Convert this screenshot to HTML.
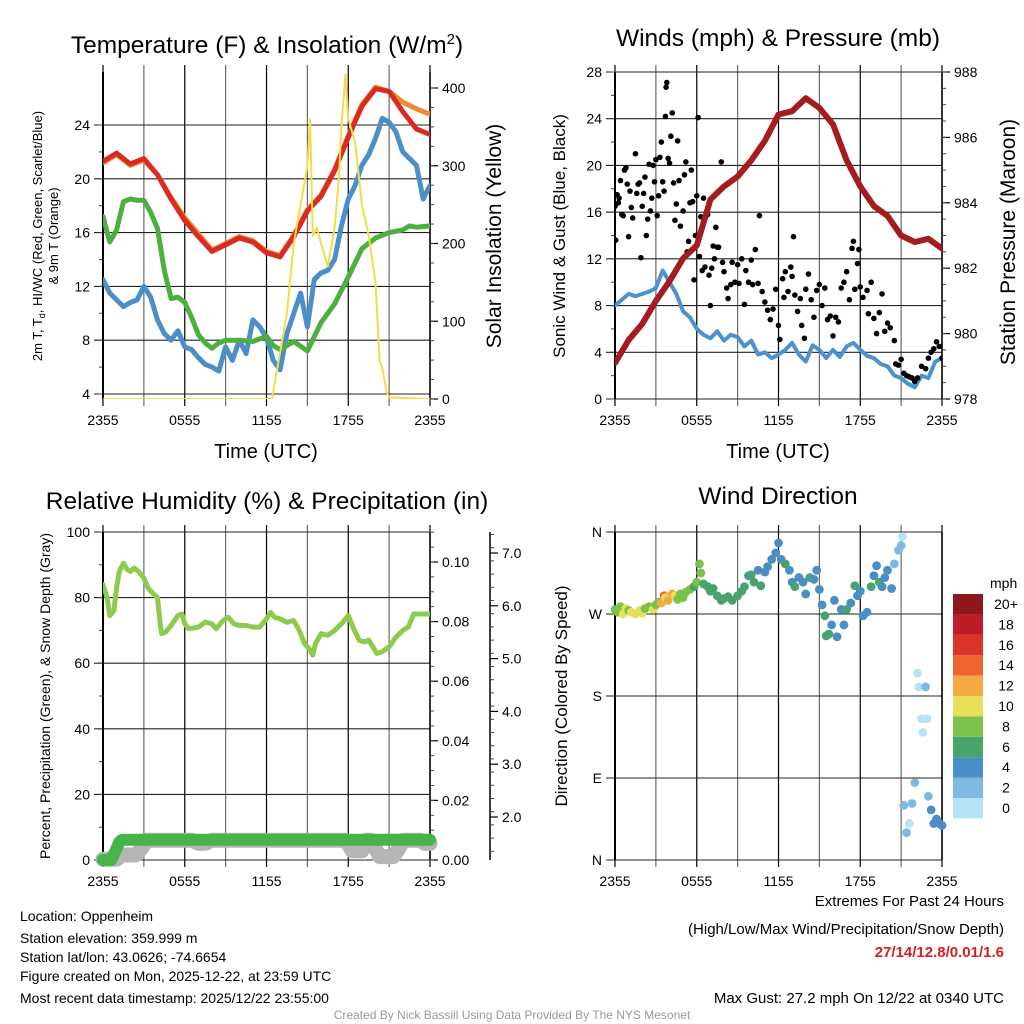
<!DOCTYPE html>
<html><head><meta charset="utf-8"><style>
html,body{margin:0;padding:0;background:#fff}
svg{display:block;font-family:"Liberation Sans",Arial,sans-serif}
</style></head><body>
<svg id="s" xmlns="http://www.w3.org/2000/svg" width="1024" height="1024" viewBox="0 0 1024 1024">
<defs>
<clipPath id="c1"><rect x="103" y="72" width="327" height="327"/></clipPath>
<clipPath id="c2"><rect x="615" y="72" width="327" height="327"/></clipPath>
<clipPath id="c3"><rect x="103" y="532" width="327" height="328"/></clipPath>
<clipPath id="c3w"><rect x="90" y="532" width="350" height="340"/></clipPath>
</defs>
<text x="267" y="53" font-size="24.5" text-anchor="middle">Temperature (F) &amp; Insolation (W/m<tspan font-size="15" dy="-9">2</tspan><tspan dy="9">)</tspan></text>
<text x="778" y="46" font-size="24.5" text-anchor="middle">Winds (mph) &amp; Pressure (mb)</text>
<text x="267" y="509" font-size="24.5" text-anchor="middle">Relative Humidity (%) &amp; Precipitation (in)</text>
<text x="778" y="504" font-size="24.5" text-anchor="middle">Wind Direction</text>

<text x="266" y="458" font-size="20" text-anchor="middle">Time (UTC)</text>
<text x="778" y="458" font-size="20" text-anchor="middle">Time (UTC)</text>
<text transform="translate(42,236) rotate(-90)" font-size="13" text-anchor="middle"><tspan x="0" dy="0">2m T, T<tspan font-size="9" dy="3">d</tspan><tspan dy="-3">, HI/WC (Red, Green, Scarlet/Blue)</tspan></tspan><tspan x="0" dy="16">&amp; 9m T (Orange)</tspan></text>
<text transform="translate(501,236) rotate(-90)" font-size="21" text-anchor="middle">Solar Insolation (Yellow)</text>
<text transform="translate(565,236) rotate(-90)" font-size="17" text-anchor="middle">Sonic Wind &amp; Gust (Blue, Black)</text>
<text transform="translate(1015,242) rotate(-90)" font-size="21" text-anchor="middle">Station Pressure (Maroon)</text>
<text transform="translate(50,696) rotate(-90)" font-size="14" text-anchor="middle">Percent, Precipitation (Green), &amp; Snow Depth (Gray)</text>
<text transform="translate(567,696) rotate(-90)" font-size="17" text-anchor="middle">Direction (Colored By Speed)</text>

<g font-size="14">
<text x="20" y="921">Location: Oppenheim</text>
<text x="20" y="943">Station elevation: 359.999 m</text>
<text x="20" y="962">Station lat/lon: 43.0626; -74.6654</text>
<text x="20" y="981">Figure created on Mon, 2025-12-22, at 23:59 UTC</text>
<text x="20" y="1003">Most recent data timestamp: 2025/12/22 23:55:00</text>
</g>
<g font-size="15" text-anchor="end">
<text x="1004" y="906">Extremes For Past 24 Hours</text>
<text x="1004" y="934">(High/Low/Max Wind/Precipitation/Snow Depth)</text>
<text x="1004" y="957" fill="#d42020" font-weight="bold">27/14/12.8/0.01/1.6</text>
<text x="1004" y="1003">Max Gust: 27.2 mph On 12/22 at 0340 UTC</text>
</g>
<text x="512" y="1019" font-size="12" fill="#999" text-anchor="middle">Created By Nick Bassill Using Data Provided By The NYS Mesonet</text>
</svg>
<script>
// ---- data ----
const hourly = [0,1,2,3,4,5,6,7,8,9,10,11,12,13,14,15,16,17,18,19,20,21,22,23,24];
const tempRed = [21.3,21.9,21.1,21.5,20.3,18.5,16.9,15.7,14.6,15.1,15.6,15.3,14.5,14.2,15.7,17.6,18.7,20.6,23.1,25.4,26.7,26.5,25.0,23.7,23.3];
const tempOrange = [21.2,21.8,21.0,21.4,20.3,18.6,17.1,15.9,14.7,15.2,15.7,15.4,14.6,14.3,15.8,17.7,18.8,20.7,23.2,25.5,26.8,26.5,25.7,25.2,24.8];
const dewTimes = [0,0.5,1,1.5,2,2.5,3,3.5,4,4.5,5,5.5,6,6.5,7,7.5,8,8.5,9,10,11,12,12.5,13,14,15,16,17,18,19,20,21,22,22.5,23,24];
const dewVals = [17.2,15.3,16.2,18.3,18.5,18.4,18.4,17.5,16.3,13.2,11.1,11.2,10.8,9.7,8.4,7.8,7.4,7.8,8.0,8.0,7.9,8.3,7.6,7.3,7.9,7.2,9.3,10.7,12.7,14.8,15.6,16.0,16.2,16.5,16.4,16.5];
const halfHours = [0,0.5,1,1.5,2,2.5,3,3.5,4,4.5,5,5.5,6,6.5,7,7.5,8,8.5,9,9.5,10,10.5,11,11.5,12,12.5,13,13.5,14,14.5,15,15.5,16,16.5,17,17.5,18,18.5,19,19.5,20,20.5,21,21.5,22,22.5,23,23.5,24];
const windChill = [12.5,11.5,11.0,10.5,10.8,11.0,12.0,11.2,9.5,8.5,8.0,8.7,7.5,7.3,6.7,6.2,6.0,5.7,7.5,6.5,8.0,7.0,9.5,9.0,8.2,6.5,5.8,8.5,10.0,11.5,9.0,12.5,13.0,13.2,14.0,16.5,18.5,19.5,21.0,21.8,23.0,24.5,24.2,23.5,22.0,21.5,21.0,18.5,19.5];
const insolTimes = [0,12.4,13,13.5,14,14.5,15,15.2,15.4,15.7,16,16.5,17,17.3,17.5,17.8,18,18.5,19,19.5,20,20.3,20.5,20.8,21,24];
const insolVals = [0,0,60,110,200,250,300,360,210,220,200,170,220,280,350,418,360,330,250,210,150,50,40,10,2,0];
const pressureVals = [979.1,979.8,980.3,981.0,981.6,982.3,982.7,984.1,984.5,984.8,985.3,985.9,986.7,986.8,987.2,986.9,986.4,985.3,984.5,983.9,983.6,983.0,982.8,982.9,982.6];
const sustainedWind = [8.0,8.5,9.0,8.8,9.0,9.2,9.5,11.0,10.0,9.0,7.5,7.0,6.0,5.5,5.2,5.8,5.0,5.5,5.3,4.5,5.0,3.8,4.0,3.5,3.8,4.2,4.8,3.8,3.2,4.6,4.2,3.5,4.2,3.6,4.5,4.8,4.2,3.7,3.5,3.0,2.8,2.0,1.8,1.3,1.0,2.0,1.8,3.2,3.5];
const gustTimes = [0,0.05,0.15,0.25,0.3,0.4,0.5,0.6,0.7,0.8,0.9,1.0,1.1,1.2,1.3,1.5,1.6,1.7,1.8,1.9,2.0,2.1,2.2,2.3,2.4,2.5,2.6,2.7,2.8,2.9,3.0,3.1,3.2,3.3,3.4,3.5,3.6,3.7,3.75,3.8,3.9,4.0,4.1,4.2,4.3,4.4,4.5,4.6,4.7,4.8,5.0,5.1,5.2,5.3,5.4,5.5,5.6,5.7,5.8,5.9,6.0,6.1,6.2,6.3,6.4,6.5,6.6,6.8,6.9,7.0,7.1,7.2,7.3,7.4,7.5,7.6,7.8,7.9,8.0,8.2,8.3,8.5,8.6,8.8,9.0,9.1,9.3,9.5,9.6,9.8,10.0,10.1,10.3,10.5,10.6,10.8,11.0,11.2,11.4,11.6,11.8,12.0,12.1,12.3,12.4,12.5,12.7,12.9,13.0,13.1,13.2,13.4,13.6,13.7,13.9,14.0,14.2,14.4,14.6,14.8,15.0,15.2,15.4,15.6,15.8,16.0,16.2,16.4,16.6,16.8,17.0,17.2,17.4,17.5,17.6,17.8,17.9,18.0,18.2,18.5,18.6,18.8,19.0,19.2,19.4,19.6,19.8,20.0,20.2,20.5,20.6,20.8,21.0,21.2,21.4,21.6,21.8,22.0,22.2,22.5,22.8,23.0,23.2,23.4,23.6,23.8,24.0];
const gustVals = [16.5,13.6,17.5,16.8,17.2,18.7,15.8,15.7,19.6,19.8,18.4,13.9,17.8,16.4,15.5,21.0,17.6,18.4,18.5,12.1,16.5,17.6,19.0,14.0,15.4,20.1,16.1,17.2,20.0,18.6,20.5,15.7,17.4,20.7,22.0,18.6,17.8,24.2,26.7,27.1,20.6,20.2,22.5,24.5,18.5,15.3,16.7,22.1,18.7,14.8,16.1,19.2,20.3,12.6,13.5,16.8,19.6,16.9,10.2,14.0,17.4,24.1,12.2,15.6,11.0,17.2,11.3,15.8,10.6,8.0,11.2,13.1,12.0,14.7,13.0,13.0,20.3,11.7,10.9,9.5,8.6,9.8,11.7,10.0,11.5,9.9,12.0,8.1,11.0,10.0,11.9,9.8,12.8,9.9,15.7,9.2,8.3,7.6,6.8,7.7,9.4,6.3,5.1,10.3,8.7,10.9,9.2,11.3,10.5,13.9,8.9,7.5,8.6,6.3,5.2,9.4,10.7,8.5,7.0,9.3,9.8,8.0,9.5,6.8,7.1,5.4,7.0,6.6,9.5,10.0,10.9,8.5,12.9,13.5,9.4,11.6,12.8,9.6,8.7,9.3,7.3,10.0,6.9,5.6,7.4,9.0,5.8,6.5,6.1,5.0,3.0,2.9,3.4,2.2,2.0,1.9,1.8,1.5,1.8,2.8,2.6,3.5,4.0,4.3,4.9,4.5,3.5];
const rhTimes = [0,0.3,0.5,0.8,1.0,1.2,1.5,1.8,2.0,2.3,2.6,3.0,3.3,3.6,4.0,4.2,4.3,4.6,5.0,5.5,5.8,6.0,6.3,7.0,7.5,8.0,8.3,8.8,9.2,9.6,10.0,10.5,11.0,11.5,12.0,12.3,12.6,13.0,13.5,14.0,14.4,14.8,15.2,15.4,15.6,16.0,16.5,17.0,17.5,18.0,18.4,18.8,19.2,19.5,19.8,20.1,20.5,21.0,21.5,22.0,22.4,22.8,23.2,24.0];
const rhVals = [84,80,74.5,76,83,88,90.5,88.5,88,89,88,86,83,81.5,80,72,69,69.5,71.5,74.5,75,72,70.5,71,72.5,72,70.5,73,74,72,71.5,71.5,71,71,73.5,75.5,74,73.5,72.5,73,70,66,64,62.5,66,69,68.5,70,72,74.5,70.5,67,66.5,67,65,63,63.5,65,68,70,71,75,75,75];
const precipTimes = [0,0.6,0.9,1.2,1.4,24];
const precipVals = [0,0,0.003,0.006,0.0068,0.0068];
const snowTimes = [0,1.0,1.4,1.8,2.4,2.8,3.2,3.6,6.5,7.0,7.5,8.0,17.8,18.3,19.0,19.3,19.6,20.0,20.3,21.3,21.7,22.0,23.3,23.6,24];
const snowVals = [1.2,1.2,1.28,1.28,1.28,1.4,1.56,1.56,1.56,1.5,1.5,1.56,1.56,1.36,1.36,1.56,1.56,1.4,1.25,1.25,1.4,1.56,1.56,1.5,1.5];
const dirTimes = [0,0.2,0.4,0.6,0.8,1.0,1.2,1.5,1.8,2.0,2.2,2.5,2.8,3.0,3.2,3.4,3.6,3.7,3.9,4.2,4.4,4.6,4.8,5.0,5.2,5.5,5.8,6.0,6.2,6.3,6.5,6.8,7.0,7.2,7.5,7.8,8.0,8.3,8.6,9.0,9.3,9.5,9.8,10.0,10.2,10.5,10.7,11.0,11.2,11.5,11.8,12.0,12.2,12.5,12.8,13.0,13.2,13.5,13.8,14.0,14.3,14.6,14.8,15.0,15.2,15.4,15.5,15.7,15.9,16.1,16.3,16.6,16.8,17.0,17.3,17.6,17.8,18.0,18.2,18.5,18.8,19.0,19.2,19.4,19.6,19.8,20.0,20.3,20.5,20.8,21.0,21.1,21.2,21.4,21.6,21.8,22.0,22.2,22.3,22.5,22.6,22.8,22.9,23.0,23.2,23.4,23.6,23.8,24.0];
const dirVals = [275,272,278,270,276,274,272,270,274,271,276,278,275,280,283,282,290,288,285,292,290,286,292,288,294,297,300,305,325,315,303,300,295,298,290,285,287,289,285,290,295,300,312,313,305,318,301,316,322,330,337,348,330,325,318,305,300,310,305,292,310,308,318,297,280,268,246,248,258,285,245,275,258,275,282,301,290,295,268,272,300,312,323,305,300,310,318,298,325,340,345,355,60,30,40,62,85,205,190,155,140,190,155,70,55,40,45,40,38];
const dirSpeeds = [7,8,7,10,10,8,10,10,9,10,8,8,10,8,8,12,13,10,12,11,10,8,8,7,8,7,6,7,8,8,6,5,6,6,6,6,5,5,5,6,6,6,4,6,5,4,6,3,4,4,4,4,4,5,4,4,5,3,4,4,6,3,4,4,4,5,5,6,4,3,4,4,4,6,4,6,4,4,4,3,5,4,4,6,4,3,3,4,2,2,1,0,1,1,0,1,1,0,0,0,0,1,0,1,3,3,3,4,3];
const speedColors = ['#b6e3f8','#7db9e2','#4a8ec6','#48a46c','#7cc24a','#e7e05a','#f5a945','#ed6530','#dc3329','#bb1c25','#8f1619'];
const speedLabels = ['0','2','4','6','8','10','12','14','16','18','20+'];
const timeLabels = ['2355','0555','1155','1755','2355'];
const timeLabelHours = [0,6,12,18,24];
const tempTicks = [4,8,12,16,20,24];
const insolTicks = [0,100,200,300,400];
const windTicks = [0,4,8,12,16,20,24,28];
const pressTicks = [978,980,982,984,986,988];
const rhTicks = [0,20,40,60,80,100];
const precipTicks = [0,0.02,0.04,0.06,0.08,0.10];
const snowTicks = [2,3,4,5,6,7];
const dirTicks = [0,90,180,270,360];
const dirTickLabels = ['N','E','S','W','N'];

// ---- helpers ----
const S = document.getElementById('s');
const NS = 'http://www.w3.org/2000/svg';
function el(tag, attrs, parent){ const e=document.createElementNS(NS,tag); for(const k in attrs) e.setAttribute(k,attrs[k]); (parent||S).appendChild(e); return e; }
function lin(d0,d1,r0,r1){ return v => r0+(v-d0)*(r1-r0)/(d1-d0); }
function pathD(xs,ys,fx,fy){ return xs.map((x,i)=>(i?'L':'M')+fx(x).toFixed(1)+','+fy(ys[i]).toFixed(1)).join(''); }

const P = [
 {x0:103,x1:430,y0:72,y1:399,n:'temp'},
 {x0:615,x1:942,y0:72,y1:399,n:'wind'},
 {x0:103,x1:430,y0:532,y1:860,n:'rh'},
 {x0:615,x1:942,y0:532,y1:860,n:'direction'}
];
P.forEach(p=>{ p.x = lin(0,24,p.x0,p.x1); });

function frame(p, leftTicks, ly, leftFmt, minorStepL){
  const g = el('g',{});
  
  
  for(let h=0; h<=24; h+=3){
    const x=p.x(h);
    const ln = el('line',{x1:x,x2:x,y1:p.y0-7,y2:p.y1+7,stroke:(h%6===0?'#000':'#6a6a6a'),'stroke-width':1.2},g);
    
    
  }
  timeLabels.forEach((t,i)=>{
    const tx = el('text',{x:p.x(timeLabelHours[i]),y:p.y1+26,'font-size':14,'text-anchor':'middle'},g);
    tx.textContent=t;
    
    
  });
  leftTicks.forEach((v,i)=>{
    const y=ly(v);
    const ln = el('line',{x1:p.x0-9,x2:p.x1,y1:y,y2:y,stroke:'#222','stroke-width':1.1},g);
    
    
    const tx = el('text',{x:p.x0-13,y:y+5,'font-size':14,'text-anchor':'end'},g);
    tx.textContent=leftFmt(v,i);
    
    
  });
  if(minorStepL){
    const a=leftTicks[0], b=leftTicks[leftTicks.length-1];
    for(let v=a; v<=b+1e-9; v+=minorStepL){ const y=ly(v); el('line',{x1:p.x0-4,x2:p.x0,y1:y,y2:y,stroke:'#444'},g); }
  }
  el('line',{x1:p.x0,x2:p.x0,y1:p.y0,y2:p.y1,stroke:'#000','stroke-width':2},g);
  el('line',{x1:p.x1,x2:p.x1,y1:p.y0,y2:p.y1,stroke:'#000','stroke-width':1.5},g);
}
function rightAxis(p, ticks, ry, fmt, minorStep, ax){
  const X = ax||p.x1;
  const g = el('g',{});
  
  
  if(ax) el('line',{x1:X,x2:X,y1:p.y0,y2:p.y1,stroke:'#000','stroke-width':1.5},g);
  ticks.forEach(v=>{
    const y=ry(v);
    el('line',{x1:X,x2:X+8,y1:y,y2:y,stroke:'#000','stroke-width':1.2},g);
    const tx=el('text',{x:X+12,y:y+5,'font-size':14},g);
    tx.textContent=fmt(v);
    
    
  });
  if(minorStep){
    const lo=Math.min(ry.lo,ticks[0]), hi=ry.hi;
    for(let v=lo; v<=hi+1e-9; v+=minorStep){ const y=ry(v); if(y>=p.y0-1&&y<=p.y1+1) el('line',{x1:X,x2:X+4,y1:y,y2:y,stroke:'#444'},g); }
  }
}
function line(p, xs, ys, fy, color, w, name, clip){
  const e = el('path',{d:pathD(xs,ys,p.x,fy),fill:'none',stroke:color,'stroke-width':w,'stroke-linejoin':'round','stroke-linecap':'round','clip-path':'url(#'+clip+')'});
  
  
  return e;
}

// ---- panel 1: temperature ----
const p1=P[0];
const ty = lin(4,24,394,125);
const iy = lin(0,400,399,88); iy.lo=0; iy.hi=420;
frame(p1,tempTicks,ty,v=>String(v),2);
rightAxis(p1,insolTicks,iy,v=>String(v),25);
line(p1,halfHours,windChill,ty,'#4b8fc9',5,'wind-chill-line','c1');
line(p1,dewTimes,dewVals,ty,'#4caf3e',5,'dewpoint-line','c1');
line(p1,hourly,tempOrange,ty,'#f08a30',5,'temp-9m-line','c1');
line(p1,hourly,tempRed,ty,'#d92b22',5,'temp-2m-line','c1');
line(p1,insolTimes,insolVals,iy,'#f4dc4a',2,'insolation-line','c1');

// ---- panel 2: wind & pressure ----
const p2=P[1];
const wy = lin(0,28,399,72);
const py = lin(978,988,399,72); py.lo=978; py.hi=988;
frame(p2,windTicks,wy,v=>String(v),2);
rightAxis(p2,pressTicks,py,v=>String(v),0.5);
line(p2,halfHours,sustainedWind,wy,'#4b93cf',4,'sustained-wind-line','c2');
gustTimes.forEach((t,i)=>{
  const c=el('circle',{cx:p2.x(t),cy:wy(gustVals[i]),r:2.8,fill:'#000','clip-path':'url(#c2)'});
  
  
});
line(p2,hourly,pressureVals,py,'#a51c1f',6,'pressure-line','c2');

// ---- panel 3: RH ----
const p3=P[2];
const ry = lin(0,100,860,532);
const pry = lin(0,0.1,860,562); pry.lo=0; pry.hi=0.11;
const sy = lin(2,7,817,553); sy.lo=1.1; sy.hi=7.4;
frame(p3,rhTicks,ry,v=>String(v),10);
rightAxis(p3,precipTicks,pry,v=>v.toFixed(2),0.005);
rightAxis(p3,snowTicks,sy,v=>v.toFixed(1),0.25,490);
line(p3,snowTimes,snowVals,sy,'#b5b5b5',15,'snow-depth-line','c3w');
line(p3,precipTimes,precipVals,pry,'#46b449',12,'precip-line','c3w');
line(p3,rhTimes,rhVals,ry,'#8ccb4e',5,'rh-line','c3');

// ---- panel 4: direction ----
const p4=P[3];
const dy = lin(0,360,860,532);
frame(p4,dirTicks,dy,(v,i)=>dirTickLabels[i],0);
dirTimes.forEach((t,i)=>{
  const idx=Math.min(10,Math.floor((dirSpeeds[i]+1)/2));
  const c=el('circle',{cx:p4.x(t),cy:dy(dirVals[i]),r:4.4,fill:speedColors[idx]});
  
  
});
// colorbar
const lg = el('g',{});


const ut = el('text',{x:990,y:588,'font-size':14},lg); ut.textContent='mph';
speedColors.forEach((c,i)=>{
  const yTop = 594 + (10-i)*20.4;
  const r=el('rect',{x:953,y:yTop,width:30,height:20.4,fill:c},lg);
  
  
  const tx=el('text',{x:1006,y:yTop+15,'font-size':14,'text-anchor':'middle'},lg);
  tx.textContent=speedLabels[i];
  
  
});
</script>
</body></html>
